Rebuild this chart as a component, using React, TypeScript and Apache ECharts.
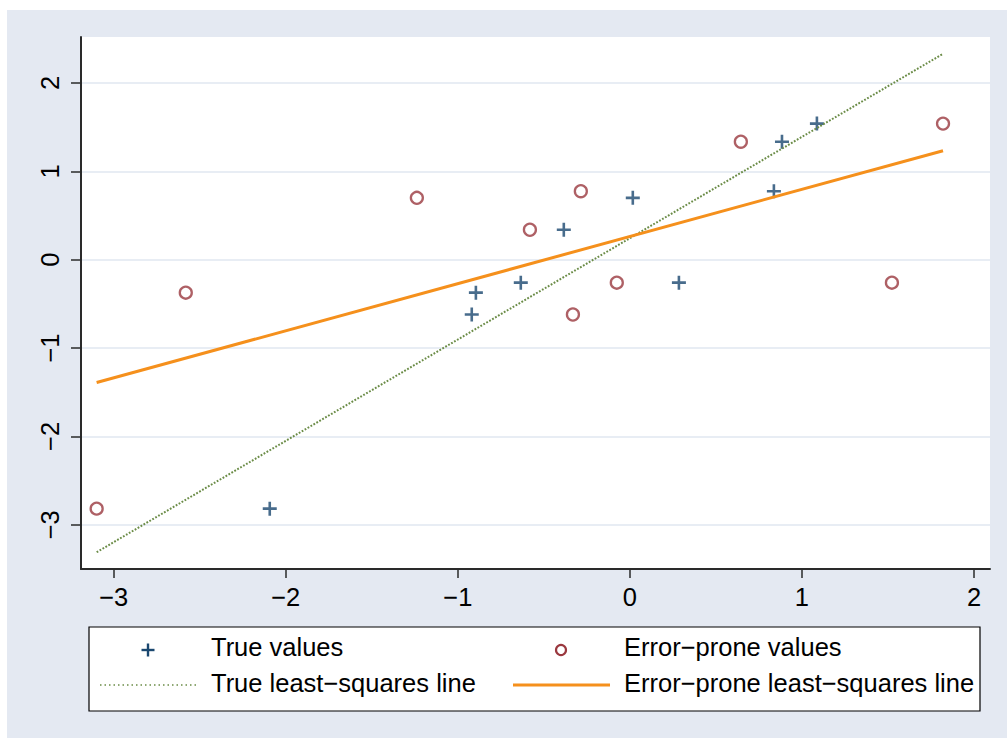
import React, { useEffect, useRef } from "react";
import * as echarts from "echarts";

// ---- data ----
const trueX = [-2.093, -0.919, -0.895, -0.634, -0.384, 0.017, 0.285, 0.837, 0.884, 1.087];
const trueY = [-2.817, -0.62, -0.373, -0.26, 0.339, 0.7, -0.26, 0.775, 1.335, 1.54];
const errX = [-3.099, -2.581, -1.238, -0.581, -0.285, -0.331, -0.076, 0.645, 1.523, 1.82];
const errY = [-2.817, -0.373, 0.7, 0.339, 0.775, -0.62, -0.26, 1.335, -0.26, 1.54];

// least-squares line endpoints (as drawn)
const trueLineX = [-3.099, 1.82];
const trueLineY = [-3.31, 2.33];
const errLineX = [-3.099, 1.82];
const errLineY = [-1.39, 1.233];

const xTicks = [-3, -2, -1, 0, 1, 2];
const yTicks = [-3, -2, -1, 0, 1, 2];

const legendNames = [
  "True values",
  "Error\u2212prone values",
  "True least\u2212squares line",
  "Error\u2212prone least\u2212squares line",
];

const zip = (a: number[], b: number[]) => a.map((v, i) => [v, b[i]]);
const fmt = (v: number) => String(v).replace("-", "\u2212");

const FONT = '"Liberation Sans", Arial, Helvetica, sans-serif';
const NAVY = "#1a476f";
const MAROON = "#9a383e";
const GREEN = "#6b8c47";
const ORANGE = "#f5901c";
const BG = "#e4e9f2";
const GRIDC = "#e1e7f0";
const AXC = "#2a2a2a";

const PLUS = "path://M5.7,0h2.6v5.7h5.7v2.6h-5.7v5.7h-2.6v-5.7h-5.7v-2.6h5.7z";

export default function App() {
  const ref = useRef<HTMLDivElement>(null);
  useEffect(() => {
    if (!ref.current) return;
    const chart = echarts.init(ref.current, null, { renderer: "svg" });
    const textStyle = (t: string, x: number, y: number) => ({
      type: "text",
      x,
      y,
      style: {
        text: t,
        fontSize: 25.5,
        fontFamily: FONT,
        fill: "#000",
        verticalAlign: "middle",
        align: "left",
      },
    });
    chart.setOption({
      animation: false,
      backgroundColor: BG,
      grid: {
        left: 74,
        top: 27,
        right: 17,
        bottom: 169,
        show: true,
        backgroundColor: "#ffffff",
        borderWidth: 0,
      },
      xAxis: {
        type: "value",
        min: -3.19,
        max: 2.093,
        axisLine: { show: true, onZero: false, lineStyle: { color: AXC, width: 2 } },
        axisTick: { show: true, length: 9, customValues: xTicks, lineStyle: { color: AXC, width: 1.5 } },
        axisLabel: {
          customValues: xTicks,
          formatter: fmt,
          fontSize: 25.5,
          fontFamily: FONT,
          color: "#000",
          margin: 15,
        },
        splitLine: { show: false },
      },
      yAxis: {
        type: "value",
        min: -3.5,
        max: 2.52,
        axisLine: { show: true, onZero: false, lineStyle: { color: AXC, width: 2 } },
        axisTick: { show: true, length: 10, customValues: yTicks, lineStyle: { color: AXC, width: 1.5 } },
        axisLabel: {
          customValues: yTicks,
          formatter: fmt,
          fontSize: 25.5,
          fontFamily: FONT,
          color: "#000",
          rotate: 90,
          margin: 18,
        },
        splitLine: { show: true, lineStyle: { color: GRIDC, width: 1.5 } },
      },
      series: [
        {
          name: legendNames[0],
          type: "scatter",
          data: zip(trueX, trueY),
          symbol: PLUS,
          symbolSize: 14,
          itemStyle: { color: NAVY },
          silent: true,
        },
        {
          name: legendNames[1],
          type: "scatter",
          data: zip(errX, errY),
          symbol: "circle",
          symbolSize: 12,
          itemStyle: { color: "rgba(255,255,255,0)", borderColor: MAROON, borderWidth: 2.3 },
          silent: true,
        },
        {
          name: legendNames[2],
          type: "line",
          data: zip(trueLineX, trueLineY),
          showSymbol: false,
          lineStyle: { color: GREEN, width: 2, type: [1.8, 1.6] },
          silent: true,
        },
        {
          name: legendNames[3],
          type: "line",
          data: zip(errLineX, errLineY),
          showSymbol: false,
          lineStyle: { color: ORANGE, width: 3 },
          silent: true,
        },
      ],
      graphic: [
        {
          type: "rect",
          shape: { x: 82, y: 617, width: 891, height: 84 },
          style: { fill: "#ffffff", stroke: "#000", lineWidth: 1.2 },
        },
        { type: "line", shape: { x1: 134.5, y1: 640, x2: 147.5, y2: 640 }, style: { stroke: NAVY, lineWidth: 2.4 } },
        { type: "line", shape: { x1: 141, y1: 633.5, x2: 141, y2: 646.5 }, style: { stroke: NAVY, lineWidth: 2.4 } },
        { type: "circle", shape: { cx: 554, cy: 640, r: 5 }, style: { fill: "none", stroke: MAROON, lineWidth: 2.2 } },
        {
          type: "line",
          shape: { x1: 93, y1: 675, x2: 191, y2: 675 },
          style: { stroke: GREEN, lineWidth: 1.5, lineDash: [1.5, 3] },
        },
        { type: "line", shape: { x1: 506, y1: 675, x2: 603, y2: 675 }, style: { stroke: ORANGE, lineWidth: 3 } },
        textStyle(legendNames[0], 204, 637),
        textStyle(legendNames[1], 617, 637),
        textStyle(legendNames[2], 204, 673),
        textStyle(legendNames[3], 617, 673),
      ],
    });
    return () => chart.dispose();
  }, []);
  return (
    <div
      ref={ref}
      style={{ position: "absolute", left: 7, top: 10, width: 1000, height: 728 }}
    />
  );
}
